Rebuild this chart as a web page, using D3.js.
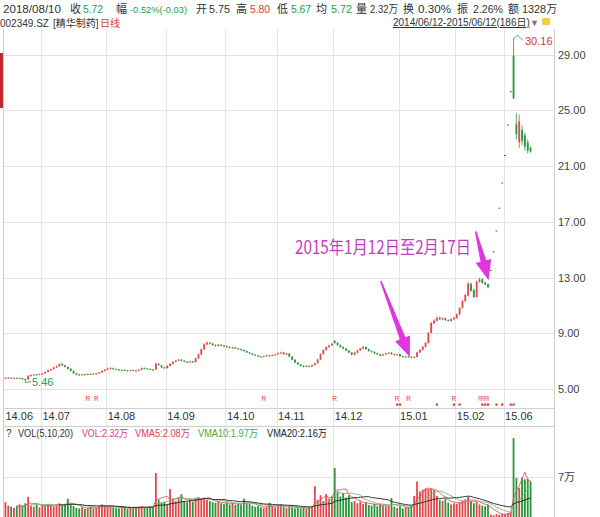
<!DOCTYPE html>
<html><head><meta charset="utf-8">
<script src="https://cdn.jsdelivr.net/npm/d3@7"></script>
<style>body{margin:0;background:#fff}svg{display:block;font-family:Arial,"Liberation Sans","Noto Sans CJK SC",sans-serif}</style>
</head><body><svg id="c" width="600" height="517"></svg>
<script>
// ---------------- data ----------------
const openP = [
5.78,5.79,5.81,5.78,5.80,5.76,5.78,5.72,5.68,5.94,
5.99,6.05,6.01,6.06,6.12,6.22,6.34,6.42,6.54,6.62,
6.80,6.70,6.58,6.46,6.30,6.12,6.04,6.00,6.06,6.02,
6.08,6.05,6.10,6.12,6.18,6.30,6.38,6.45,6.50,6.43,
6.40,6.35,6.38,6.34,6.30,6.36,6.33,6.30,6.38,6.50,
6.48,6.45,6.40,6.40,6.80,6.70,6.56,6.50,6.65,6.80,
6.95,7.04,7.10,7.02,6.97,6.90,6.98,6.92,7.20,7.48,
7.85,8.20,8.34,8.26,8.16,8.10,8.18,8.12,8.07,8.02,
7.95,7.98,7.91,7.86,7.80,7.72,7.62,7.55,7.47,7.40,
7.34,7.30,7.36,7.42,7.38,7.44,7.48,7.56,7.62,7.50,
7.54,7.32,7.10,6.90,6.76,6.66,6.60,6.66,6.62,6.72,
6.85,7.12,7.50,7.80,8.00,8.12,8.45,8.30,8.15,8.02,
7.90,7.76,7.62,7.46,7.60,7.76,7.90,8.02,7.86,7.72,
7.66,7.56,7.50,7.40,7.48,7.56,7.60,7.50,7.44,7.50,
7.36,7.30,7.34,7.31,7.26,7.30,7.62,7.80,8.02,8.30,
9.02,9.72,9.90,10.12,10.00,10.08,9.95,9.88,10.00,10.10,
10.35,10.82,11.30,11.70,12.55,12.10,11.60,12.70,12.88,12.64,
12.52,13.53,14.88,16.37,18.01,19.81,21.79,23.97,26.37,28.90,
24.00,22.70,23.60,23.20,22.70,22.30];
const highP = [
5.84,5.86,5.84,5.83,5.82,5.82,5.80,5.74,5.98,6.04,
6.08,6.08,6.11,6.16,6.26,6.40,6.46,6.60,6.68,6.84,
6.88,6.74,6.62,6.50,6.34,6.15,6.08,6.09,6.09,6.12,
6.11,6.14,6.16,6.22,6.34,6.43,6.52,6.56,6.54,6.46,
6.42,6.41,6.40,6.37,6.39,6.39,6.36,6.42,6.55,6.54,
6.50,6.47,6.43,6.90,6.86,6.73,6.59,6.70,6.85,7.00,
7.10,7.16,7.14,7.06,7.00,7.03,7.01,7.25,7.55,7.92,
8.28,8.42,8.38,8.30,8.20,8.24,8.22,8.16,8.11,8.06,
8.03,8.02,7.95,7.90,7.84,7.76,7.66,7.58,7.50,7.44,
7.38,7.40,7.46,7.45,7.48,7.52,7.62,7.68,7.66,7.60,
7.58,7.36,7.14,6.94,6.80,6.70,6.70,6.69,6.76,6.90,
7.18,7.56,7.86,8.06,8.18,8.30,8.52,8.36,8.20,8.06,
7.94,7.80,7.66,7.65,7.81,7.95,8.08,8.06,7.90,7.76,
7.70,7.60,7.54,7.53,7.60,7.66,7.64,7.54,7.54,7.53,
7.40,7.37,7.36,7.34,7.34,7.68,7.86,8.08,8.36,9.08,
9.80,10.00,10.22,10.18,10.16,10.12,10.00,10.08,10.18,10.42,
10.88,11.38,11.82,12.68,12.62,12.20,12.78,12.98,12.95,12.70,
12.58,13.53,14.88,16.37,18.01,19.81,21.79,23.97,26.37,30.16,
24.80,24.70,23.90,23.40,22.90,22.40];
const lowP = [
5.75,5.76,5.75,5.75,5.74,5.73,5.66,5.46,5.66,5.90,
5.96,5.98,5.99,6.03,6.09,6.19,6.30,6.39,6.50,6.58,
6.64,6.54,6.40,6.26,6.08,5.98,5.96,5.97,5.99,5.99,
6.02,6.02,6.07,6.09,6.15,6.26,6.34,6.41,6.38,6.36,
6.32,6.31,6.29,6.26,6.27,6.28,6.26,6.27,6.35,6.43,
6.40,6.36,6.32,6.37,6.68,6.51,6.45,6.47,6.61,6.76,
6.90,7.00,6.98,6.92,6.86,6.86,6.88,6.89,7.15,7.42,
7.80,8.14,8.20,8.10,8.04,8.05,8.06,8.01,7.97,7.91,
7.91,7.86,7.82,7.75,7.68,7.58,7.50,7.42,7.36,7.28,
7.25,7.27,7.33,7.34,7.34,7.40,7.45,7.52,7.46,7.47,
7.28,7.05,6.86,6.72,6.62,6.55,6.57,6.58,6.59,6.69,
6.82,7.08,7.46,7.76,7.96,8.08,8.26,8.10,7.97,7.85,
7.71,7.57,7.40,7.42,7.56,7.72,7.86,7.81,7.68,7.61,
7.51,7.45,7.35,7.37,7.45,7.52,7.46,7.40,7.40,7.31,
7.25,7.26,7.26,7.22,7.22,7.27,7.58,7.76,7.98,8.26,
9.00,9.66,9.85,9.94,9.95,9.88,9.84,9.82,9.96,10.05,
10.30,10.78,11.25,11.65,11.98,11.50,11.55,12.62,12.55,12.45,
12.22,13.53,14.88,16.37,18.01,19.81,21.79,23.97,26.37,25.80,
22.90,22.30,22.50,22.10,21.90,21.95];
const closeP = [
5.80,5.82,5.78,5.80,5.77,5.79,5.70,5.66,5.95,6.00,
6.04,6.02,6.08,6.12,6.22,6.35,6.42,6.55,6.62,6.78,
6.70,6.58,6.45,6.30,6.12,6.02,6.00,6.05,6.03,6.08,
6.06,6.10,6.12,6.18,6.30,6.38,6.46,6.50,6.42,6.40,
6.36,6.37,6.33,6.30,6.35,6.32,6.30,6.38,6.50,6.47,
6.44,6.40,6.36,6.82,6.72,6.55,6.50,6.66,6.80,6.95,
7.05,7.10,7.02,6.96,6.90,6.98,6.92,7.20,7.48,7.85,
8.20,8.32,8.26,8.15,8.10,8.18,8.12,8.06,8.02,7.96,
7.98,7.90,7.86,7.80,7.72,7.62,7.55,7.46,7.40,7.33,
7.30,7.36,7.42,7.38,7.44,7.48,7.56,7.62,7.50,7.54,
7.32,7.10,6.90,6.76,6.66,6.60,6.66,6.62,6.72,6.85,
7.12,7.50,7.80,8.00,8.12,8.24,8.30,8.15,8.02,7.90,
7.76,7.62,7.46,7.60,7.76,7.90,8.02,7.86,7.72,7.66,
7.56,7.50,7.40,7.48,7.56,7.60,7.50,7.44,7.50,7.36,
7.30,7.33,7.30,7.27,7.30,7.62,7.80,8.02,8.30,9.02,
9.75,9.90,10.10,10.00,10.06,9.94,9.90,10.02,10.12,10.35,
10.80,11.30,11.75,12.55,12.05,11.60,12.70,12.85,12.62,12.50,
12.30,13.53,14.88,16.37,18.01,19.81,21.79,23.97,26.37,25.86,
23.30,24.20,22.80,22.40,22.10,22.05];
// volume in 万 (10k shares)
const volume = [
2.6,2.0,1.8,1.6,1.9,2.2,2.0,2.4,3.5,2.0,
1.8,2.2,1.7,2.1,2.0,2.3,2.1,1.9,2.2,2.4,
2.0,2.3,3.2,2.2,1.9,1.6,1.5,1.7,1.4,1.6,
1.8,1.5,1.7,1.9,2.2,2.0,1.8,1.9,1.7,1.6,
1.5,1.7,1.6,1.4,1.6,1.5,1.6,1.8,1.9,1.7,
1.6,1.8,1.7,7.7,3.0,2.5,2.6,2.2,4.9,3.2,
2.8,3.4,4.0,2.8,2.6,3.0,2.7,3.3,3.5,3.2,
3.4,3.0,2.8,2.6,2.5,2.7,2.4,2.3,2.5,2.2,
2.4,2.1,2.3,2.2,3.2,2.4,2.3,2.0,1.8,1.9,
1.7,1.6,1.8,2.5,1.9,1.7,2.0,2.2,1.8,1.6,
1.9,1.7,1.5,1.6,1.5,1.7,1.4,1.6,1.8,5.4,
3.0,3.8,2.8,4.0,3.2,3.6,8.6,4.5,3.6,4.2,
3.4,3.8,2.6,2.8,2.4,2.7,2.3,2.5,2.1,2.0,
2.3,1.9,2.2,2.0,1.9,1.9,3.3,1.8,1.6,1.9,
1.5,1.7,1.6,2.0,3.7,6.2,4.5,4.8,5.0,4.9,
5.0,4.7,3.7,3.0,2.8,3.2,2.5,2.2,2.4,2.3,
2.6,2.9,3.1,3.5,2.8,2.4,2.6,2.2,2.0,1.9,
2.1,0.4,0.3,0.5,0.4,0.6,0.5,0.7,0.9,13.8,
6.8,5.1,6.9,6.6,6.7,6.2];
const monthLabels = ["14.06","14.07","14.08","14.09","14.10","14.11","14.12","15.01","15.02","15.06"];
const monthStart  = [0,13,36,57,78,96,116,139,159,176];
const priceTicks = [5,9,13,17,21,25,29];
const volTicks = [7];
const rMarkIdx = [29,32,91,116,138,142,158,167,168,169,170];
const starIdx = [138,139,152,158,160,168,169,170,173,175,178,179];
const annStart = 144, annEnd = 170;
// [text, colour, x, width, font size]
const headerItems = [
  ["2018/08/10","#333",3,58,11.5],["收","#333",70,11,11.5],["5.72","#2a9a4a",83,20,11.5],
  ["幅","#333",116,11,11.5],["-0.52%(-0.03)","#2a9a4a",130,57,9.8],
  ["开","#333",196,11,11.5],["5.75","#333",209,21,11.5],
  ["高","#333",236,11,11.5],["5.80","#d6383e",250,20,11.5],
  ["低","#333",277,11,11.5],["5.67","#2a9a4a",291,20,11.5],
  ["均","#333",316,11,11.5],["5.72","#2a9a4a",331,21,11.5],
  ["量","#333",356,11,11.5],["2.32万","#333",370,28,11],
  ["换","#333",403,11,11.5],["0.30%","#333",418,33,11.5],
  ["振","#333",457,11,11.5],["2.26%","#333",473,30,11],
  ["额","#333",508,11,11.5],["1328万","#333",522,35,11]];
const volHeader = [["VOL(5,10,20)","#333",18,55],["VOL:2.32万","#c8487a",82,46],["VMA5:2.08万","#d9414e",135,55],["VMA10:1.97万","#4aaa4a",198,60],["VMA20:2.16万","#222",267,60]];
const maPeriods = [5,10,20];
const maColors = ["#e0506a","#6cbf6c","#222"];

// ---------------- drawing ----------------
const N = closeP.length;
const RED = "#e4464c", GREEN = "#2a963a", GRID = "#e4e4e4";
const svg = d3.select("#c");
svg.append("rect").attr("width",600).attr("height",517).attr("fill","#fff");

const x = d3.scaleLinear().domain([0, N]).range([4, 532]);
const y = d3.scaleLinear().domain([5, 29]).range([389, 54.5]);
const yv = d3.scaleLinear().domain([0, 7]).range([517, 477]);

// grids
const g = svg.append("g");
g.selectAll(".hg").data(priceTicks).join("line")
  .attr("x1",4).attr("x2",554).attr("y1",d=>Math.round(y(d))+0.5).attr("y2",d=>Math.round(y(d))+0.5)
  .attr("stroke",GRID);
g.selectAll(".vg").data(monthStart.slice(1)).join("line")
  .attr("x1",d=>Math.round(x(d))+0.5).attr("x2",d=>Math.round(x(d))+0.5).attr("y1",29).attr("y2",517)
  .attr("stroke",GRID);
g.selectAll(".vgv").data(volTicks).join("line")
  .attr("x1",4).attr("x2",554).attr("y1",d=>Math.round(yv(d))+0.5).attr("y2",d=>Math.round(yv(d))+0.5)
  .attr("stroke",GRID);
// frame
[[3.5,29,3.5,517],[554.5,29,554.5,517],[4,408.5,554,408.5],[4,426.5,554,426.5]].forEach(l=>
  svg.append("line").attr("x1",l[0]).attr("y1",l[1]).attr("x2",l[2]).attr("y2",l[3]).attr("stroke","#cfcfcf"));
// left red marker
svg.append("rect").attr("x",0).attr("y",53).attr("width",3).attr("height",55).attr("fill","#c1272d");

// price axis (right)
const ay = d3.axisRight(y).tickValues(priceTicks).tickFormat(d3.format(".2f")).tickSize(0).tickPadding(0);
svg.append("g").attr("transform","translate(558,0)").call(ay)
  .call(s=>s.select(".domain").remove())
  .call(s=>s.selectAll("text").attr("fill","#444").attr("font-size","11px").attr("font-family","Arial,'Liberation Sans',sans-serif"));
const av = d3.axisRight(yv).tickValues(volTicks).tickFormat(d=>d+"万").tickSize(0).tickPadding(0);
svg.append("g").attr("transform","translate(558,0)").call(av)
  .call(s=>s.select(".domain").remove())
  .call(s=>s.selectAll("text").attr("fill","#444").attr("font-size","11px").attr("font-family","Arial,'Liberation Sans','Noto Sans CJK SC',sans-serif"));

// month labels
svg.selectAll(".ml").data(monthLabels).join("text")
  .attr("x",(d,i)=>x(monthStart[i])+1.5).attr("y",420)
  .attr("font-size","11px").attr("fill","#333").text(d=>d);

// candles
const idx = d3.range(N);
const colorOf = i => (openP[i]===closeP[i] && highP[i]===lowP[i]) ? "#555" : (closeP[i]>=openP[i] ? RED : GREEN);
const cg = svg.append("g");
cg.selectAll("line").data(idx).join("line")
  .attr("x1",i=>x(i+0.5)).attr("x2",i=>x(i+0.5))
  .attr("y1",i=>y(highP[i])).attr("y2",i=>y(lowP[i]))
  .attr("stroke",colorOf).attr("stroke-width",0.8);
cg.selectAll("rect").data(idx).join("rect")
  .attr("x",i=>x(i+0.5)-0.9).attr("width",1.8)
  .attr("y",i=>y(Math.max(openP[i],closeP[i])))
  .attr("height",i=>Math.max(1,Math.abs(y(openP[i])-y(closeP[i]))))
  .attr("fill",colorOf);

// high / low labels
const iMax = d3.maxIndex(highP), iMin = d3.minIndex(lowP);
svg.append("polyline").attr("points",[[x(iMax+0.5),y(highP[iMax])],[x(iMax+0.5)+4,y(highP[iMax])-3],[523,y(highP[iMax])+2]].join(" "))
  .attr("fill","none").attr("stroke","#4a9a8a").attr("stroke-width",0.9);
svg.append("text").attr("x",525).attr("y",y(highP[iMax])+7).attr("font-size","11px").attr("fill","#d6383e").text(highP[iMax].toFixed(2));
svg.append("line").attr("x1",x(iMin+0.5)).attr("y1",y(lowP[iMin])).attr("x2",31).attr("y2",y(lowP[iMin])-1)
  .attr("stroke","#3a9a6a").attr("stroke-width",0.9);
svg.append("text").attr("x",32).attr("y",y(lowP[iMin])+3.5).attr("font-size","11px").attr("fill","#2a9a5a").text(lowP[iMin].toFixed(2));

// R markers (consecutive days grouped into one label) and star markers
const rGroups = [];
rMarkIdx.forEach(i=>{ const last=rGroups[rGroups.length-1]; if(last && i===last[last.length-1]+1) last.push(i); else rGroups.push([i]); });
svg.selectAll(".rm").data(rGroups).join("text")
  .attr("x",grp=>x(d3.mean(grp)+0.5)).attr("y",401).attr("text-anchor","middle")
  .attr("font-size","6.5px").attr("fill","#d6383e")
  .attr("textLength",grp=>grp.length>1?grp.length*2.8:null).attr("lengthAdjust","spacingAndGlyphs")
  .text(grp=>"R".repeat(grp.length));
svg.selectAll(".sm").data(starIdx).join("rect").attr("x",i=>x(i+0.5)-1.1).attr("y",403.5).attr("width",2.2).attr("height",2.2).attr("fill","#d6383e");

// volume bars
const vg = svg.append("g");
vg.selectAll("rect").data(idx).join("rect")
  .attr("x",i=>x(i+0.5)-0.9).attr("width",1.8)
  .attr("y",i=>yv(volume[i])).attr("height",i=>yv(0)-yv(volume[i]))
  .attr("fill",i=>closeP[i]>=openP[i] ? RED : GREEN);
// volume moving averages
maPeriods.forEach((p,k)=>{
  const pts = idx.filter(i=>i>=p-1).map(i=>[x(i+0.5), yv(d3.mean(volume.slice(i-p+1,i+1)))]);
  svg.append("path").attr("d",d3.line()(pts)).attr("fill","none").attr("stroke",maColors[k]).attr("stroke-width",0.9);
});

// header
const h1 = svg.append("g");
headerItems.forEach(d=>h1.append("text").attr("x",d[2]).attr("y",12.5).attr("fill",d[1]).attr("font-size",d[4]+"px")
  .attr("textLength",d[3]).attr("lengthAdjust","spacingAndGlyphs").text(d[0]));
const h2 = svg.append("g").attr("font-size","10px");
h2.append("text").attr("x",0).attr("y",27).attr("fill","#333").text("002349.SZ");
h2.append("text").attr("x",53).attr("y",27).attr("fill","#333").text("[精华制药]");
h2.append("text").attr("x",100).attr("y",27).attr("fill","#d6383e").text("日线");
h2.append("text").attr("x",393).attr("y",26).attr("fill","#333").attr("text-decoration","underline").text("2014/06/12-2015/06/12(186日)");
h2.append("text").attr("x",530).attr("y",26).attr("fill","#777").attr("font-size","9px").text("▼");
svg.append("rect").attr("x",542).attr("y",18).attr("width",8).attr("height",7).attr("fill","#f2cf4a").attr("rx",1);

// volume header
const vh = svg.append("g").attr("font-size","10px");
vh.append("text").attr("x",6).attr("y",437).attr("fill","#333").text("?");
volHeader.forEach(d=>vh.append("text").attr("x",d[2]).attr("y",437).attr("fill",d[1])
  .attr("textLength",d[3]).attr("lengthAdjust","spacingAndGlyphs").text(d[0]));

// annotation
const MAG = "#e036e0";
function arrow(x1,y1,x2,y2){
  const dx=x2-x1, dy=y2-y1, L=Math.hypot(dx,dy), ux=dx/L, uy=dy/L, px=-uy, py=ux;
  const hl=20, hw=8, sw0=0.8, sw1=3;
  const bx=x2-ux*hl, by=y2-uy*hl;
  const pts=[[x1+px*sw0,y1+py*sw0],[bx+px*sw1,by+py*sw1],[bx+px*hw,by+py*hw],[x2,y2],[bx-px*hw,by-py*hw],[bx-px*sw1,by-py*sw1],[x1-px*sw0,y1-py*sw0]];
  svg.append("polygon").attr("points",pts.join(" ")).attr("fill",MAG);
}
const t1x = x(annStart)-3, t1y = y(lowP[annStart])-1;
arrow(t1x-29, t1y-76, t1x, t1y);
const t2x = x(annEnd)+2, t2y = y(highP[annEnd])-3;
arrow(t2x-13, t2y-49, t2x, t2y);
svg.append("text").attr("x",295).attr("y",254).attr("font-size","18px").attr("fill","#c23cc2")
  .attr("font-family","'Noto Sans CJK SC',sans-serif").attr("textLength",176).attr("lengthAdjust","spacingAndGlyphs")
  .text("2015年1月12日至2月17日");
</script></body></html>
